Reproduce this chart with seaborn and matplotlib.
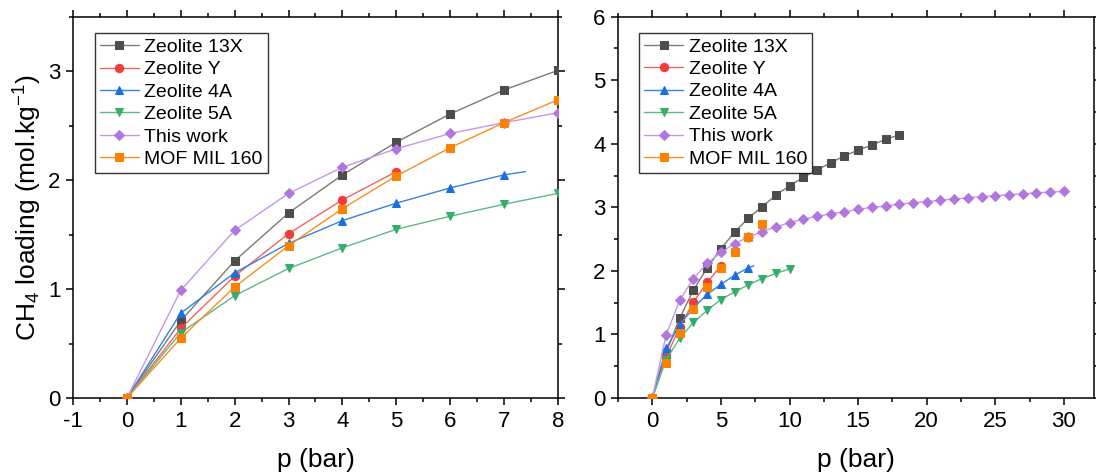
import numpy as np
import pandas as pd
import matplotlib
matplotlib.use("Agg")
import matplotlib.pyplot as plt
from matplotlib.ticker import MultipleLocator
import seaborn as sns

# --- data ---
p_13x = [0, 1, 2, 3, 4, 5, 6, 7, 8, 9, 10, 11, 12, 13, 14, 15, 16, 17, 18]
q_13x = [0, 0.71, 1.26, 1.70, 2.05, 2.35, 2.61, 2.83, 3.01, 3.19, 3.34, 3.47,
         3.59, 3.70, 3.81, 3.90, 3.98, 4.07, 4.14]

p_y = [0, 1, 2, 3, 4, 5]
q_y = [0, 0.64, 1.12, 1.51, 1.82, 2.08]

p_4a = [0, 1, 2, 3, 4, 5, 6, 7, 7.4]
q_4a = [0, 0.78, 1.15, 1.42, 1.63, 1.79, 1.93, 2.05, 2.08]

p_5a = [0, 1, 2, 3, 4, 5, 6, 7, 8, 9, 10]
q_5a = [0, 0.60, 0.94, 1.19, 1.38, 1.55, 1.67, 1.78, 1.88, 1.96, 2.03]

p_this = list(range(0, 31))
q_this = [0, 0.99, 1.54, 1.88, 2.12, 2.29, 2.43, 2.53, 2.62, 2.69, 2.76, 2.81,
          2.86, 2.90, 2.93, 2.97, 3.00, 3.02, 3.05, 3.07, 3.09, 3.11, 3.13,
          3.15, 3.17, 3.18, 3.20, 3.21, 3.23, 3.24, 3.25]

p_mil = [0, 1, 2, 3, 4, 5, 6, 7, 8]
q_mil = [0, 0.55, 1.02, 1.40, 1.74, 2.04, 2.30, 2.53, 2.74]

series = [
    ("Zeolite 13X", p_13x, q_13x, "s", "#4d4d4d", "#7a7a7a"),
    ("Zeolite Y", p_y, q_y, "o", "#f03c3c", "#f06262"),
    ("Zeolite 4A", p_4a, q_4a, "^", "#1a6fdf", "#3a80e0"),
    ("Zeolite 5A", p_5a, q_5a, "v", "#37ad6b", "#5cba85"),
    ("This work", p_this, q_this, "D", "#b177de", "#c596e6"),
    ("MOF MIL 160", p_mil, q_mil, "s", "#fb8200", "#fb8c1a"),
]

fam = 'Liberation Sans'
sns.set_theme(style="ticks")
plt.rcParams['font.family'] = [fam, 'DejaVu Sans']
plt.rcParams['axes.unicode_minus'] = False
plt.rcParams['mathtext.fontset'] = 'custom'
plt.rcParams['mathtext.rm'] = fam
plt.rcParams['mathtext.it'] = fam
plt.rcParams['text.color'] = 'black'
plt.rcParams['axes.labelcolor'] = 'black'
plt.rcParams['xtick.color'] = 'black'
plt.rcParams['ytick.color'] = 'black'

fig = plt.figure(figsize=(10.96, 4.74), dpi=100)
ax1 = fig.add_axes([0.0666, 0.1603, 0.4425, 0.8038])
ax2 = fig.add_axes([0.5639, 0.1603, 0.4343, 0.8045])


def draw(ax, right=False):
    for name, px, qy, mk, mcol, lcol in series:
        df = pd.DataFrame({"p": px, "q": qy})
        no_line = right and name == "MOF MIL 160"
        n = len(df)
        sns.lineplot(data=df, x="p", y="q", ax=ax, color=lcol,
                     lw=0 if no_line else 1.0, marker=mk,
                     markevery=list(range(n - 1)) if name == "Zeolite 4A" else None,
                     ms=5 if mk == "D" else 6, mfc=mcol, mec=mcol,
                     label=name, sort=False, errorbar=None, zorder=3)
    leg = ax.legend(loc="upper left", bbox_to_anchor=(0.045, 0.957),
                    fontsize=14, frameon=True, fancybox=False,
                    edgecolor="black", labelspacing=0.25, handlelength=2.0,
                    handletextpad=0.3, borderpad=0.25, borderaxespad=0)
    leg.get_frame().set_linewidth(1.0)
    for h in leg.legend_handles:
        h.set_linewidth(1.0)
    for t in leg.get_texts():
        t.set_color("black")
    ax.set_xlabel("p (bar)", fontsize=19, labelpad=12, color="black")
    ax.tick_params(which="both", direction="out", top=True, right=True,
                   labelsize=16, width=1.1, color="black", labelcolor="black",
                   pad=4)
    ax.tick_params(which="major", length=5)
    ax.tick_params(which="minor", length=3)
    for s in ax.spines.values():
        s.set_linewidth(1.1)
        s.set_color("black")
        s.set_visible(True)


draw(ax1)
ax1.set_xlim(-1, 8)
ax1.set_ylim(0, 3.5)
ax1.xaxis.set_major_locator(MultipleLocator(1))
ax1.xaxis.set_minor_locator(MultipleLocator(0.5))
ax1.yaxis.set_major_locator(MultipleLocator(1))
ax1.yaxis.set_minor_locator(MultipleLocator(0.5))
ax1.set_ylabel("CH$_4$ loading (mol.kg$^{-1}$)", fontsize=19, labelpad=3,
               color="black")

draw(ax2, right=True)
ax2.set_xlim(-2.5, 32.2)
ax2.set_ylim(0, 6)
ax2.xaxis.set_major_locator(MultipleLocator(5))
ax2.xaxis.set_minor_locator(MultipleLocator(2.5))
ax2.yaxis.set_major_locator(MultipleLocator(1))
ax2.yaxis.set_minor_locator(MultipleLocator(0.5))
ax2.set_ylabel("")
ax2.set_xticks([0, 5, 10, 15, 20, 25, 30])

fig.savefig("out.png", dpi=100)
